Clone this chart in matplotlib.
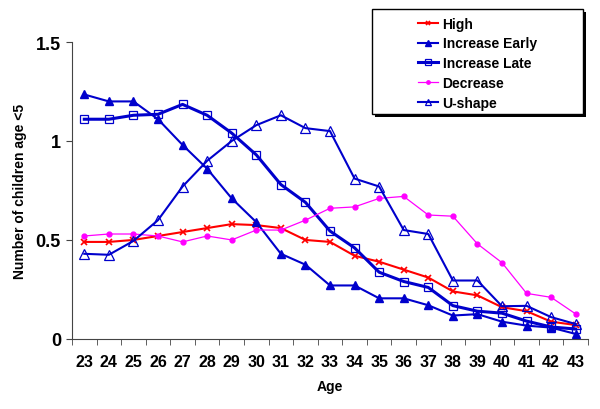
import matplotlib.pyplot as plt
from matplotlib.patches import Rectangle

plt.rcParams['font.family'] = ['Liberation Sans', 'DejaVu Sans']

ages = list(range(23, 44))

high = [0.49, 0.49, 0.50, 0.52, 0.54, 0.56, 0.58, 0.575, 0.56, 0.50, 0.49,
        0.42, 0.39, 0.35, 0.31, 0.24, 0.22, 0.16, 0.14, 0.087, 0.07]
increase_early = [1.235, 1.20, 1.20, 1.11, 0.98, 0.86, 0.71, 0.59, 0.43, 0.375, 0.27,
                  0.27, 0.205, 0.205, 0.17, 0.118, 0.125, 0.087, 0.067, 0.057, 0.025]
increase_late = [1.11, 1.11, 1.13, 1.135, 1.185, 1.13, 1.04, 0.93, 0.78, 0.69, 0.545,
                 0.46, 0.337, 0.29, 0.26, 0.168, 0.14, 0.13, 0.09, 0.06, 0.05]
decrease = [0.52, 0.53, 0.53, 0.52, 0.49, 0.52, 0.50, 0.55, 0.55, 0.60, 0.66,
            0.667, 0.71, 0.72, 0.626, 0.62, 0.48, 0.385, 0.23, 0.21, 0.126]
u_shape = [0.43, 0.425, 0.495, 0.60, 0.77, 0.90, 1.0, 1.08, 1.13, 1.065, 1.05,
           0.81, 0.77, 0.55, 0.53, 0.295, 0.295, 0.165, 0.167, 0.11, 0.075]

blue = '#0000CC'

fig = plt.figure(figsize=(6, 4.1), dpi=100)
ax = fig.add_axes([0.12, 0.171, 0.86, 0.724])

ax.plot(ages, high, color='red', lw=1.5, marker='x', ms=5, mew=1.2, label='High')
ax.plot(ages, increase_early, color=blue, lw=1.5, marker='^', ms=6, mfc=blue, label='Increase Early')
ax.plot(ages, increase_late, color=blue, lw=2.2, marker='s', ms=6, mfc='none', mew=0.9, label='Increase Late')
ax.plot(ages, decrease, color='#FF00FF', lw=0.9, marker='o', ms=3.5, label='Decrease')
ax.plot(ages, u_shape, color=blue, lw=1.5, marker='^', ms=6.5, mfc='none', mew=0.9, label='U-shape')

ax.set_xlim(22.5, 43.5)
ax.set_ylim(0, 1.5)
ax.set_yticks([0, 0.5, 1, 1.5])
ax.set_yticklabels(['0', '0.5', '1', '1.5'], fontweight='bold', fontsize=13)
ax.set_xticks(ages)
ax.set_xticklabels([str(a) for a in ages], fontweight='bold', fontsize=11.5)
ax.set_xticks([a + 0.5 for a in range(22, 44)], minor=True)
ax.tick_params(axis='x', which='major', length=0, pad=11)
ax.tick_params(axis='x', which='minor', length=4, direction='out', color='#444444')
ax.tick_params(axis='y', length=4, direction='out', color='#444444', pad=4)
for s in ['top', 'right']:
    ax.spines[s].set_visible(False)
for s in ['left', 'bottom']:
    ax.spines[s].set_color('#444444')

ax.set_xlabel('Age', fontweight='bold', fontsize=10, labelpad=7)
ax.set_ylabel('Number of children age <5', fontweight='bold', fontsize=10, labelpad=6)

# legend box with drop shadow
lx0, ly0, lw, lh = 372 / 600, 1 - 115 / 410, 211 / 600, 105 / 410
fig.patches.append(Rectangle((lx0 + 3 / 600, ly0 - 3 / 410), lw, lh, transform=fig.transFigure,
                             facecolor='black', edgecolor='none', zorder=1))
fig.patches.append(Rectangle((lx0, ly0), lw, lh, transform=fig.transFigure,
                             facecolor='white', edgecolor='black', lw=1.0, zorder=2))
leg = fig.legend(loc='upper left', bbox_to_anchor=(412 / 600, 1 - 12 / 410), frameon=False,
                 handlelength=1.5, handletextpad=0.3, labelspacing=0.42, borderaxespad=0,
                 prop={'weight': 'bold', 'size': 10}, markerscale=0.7)
leg.set_zorder(3)

fig.savefig('out.png', dpi=100)
